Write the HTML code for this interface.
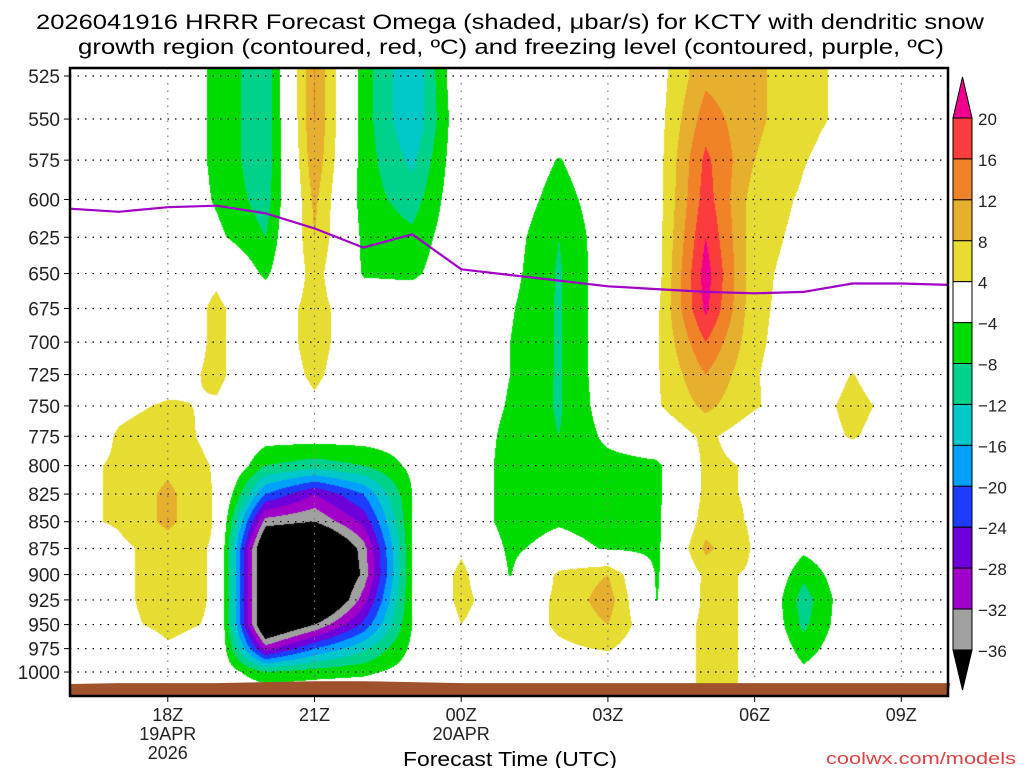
<!DOCTYPE html>
<html><head><meta charset="utf-8">
<style>
body{margin:0;background:#fff;width:1024px;height:768px;overflow:hidden;position:relative;font-family:"Liberation Sans",sans-serif}
#cv{position:absolute;left:70px;top:68px}
svg{position:absolute;left:0;top:0}
</style></head><body>
<canvas id="cv" width="878" height="628"></canvas>
<svg id="sv" width="1024" height="768">
<text x="510" y="29" text-anchor="middle" font-size="21" textLength="948" lengthAdjust="spacingAndGlyphs">2026041916 HRRR Forecast Omega (shaded, μbar/s) for KCTY with dendritic snow</text>
<text x="511" y="54" text-anchor="middle" font-size="21" textLength="866" lengthAdjust="spacingAndGlyphs">growth region (contoured, red, ºC) and freezing level (contoured, purple, ºC)</text>
<text x="510" y="766" text-anchor="middle" font-size="20" textLength="214" lengthAdjust="spacingAndGlyphs">Forecast Time (UTC)</text>
<text x="1016" y="764" text-anchor="end" font-size="17" fill="#e04040" textLength="190" lengthAdjust="spacingAndGlyphs">coolwx.com/models</text>
<g id="grid"></g><g id="marks"></g><g id="axes"></g><g id="cbar"></g>
</svg>
<script>
const hours=[0,1,2,3,4,5,6,7,8,9,10,11,12,13,14,15,16,17,18];
const levels=[525,550,575,600,625,650,675,700,725,750,775,800,825,850,875,900,925,950,975,1000,1025];
const r525=[0,0,0,-5,-11,12,-6,-16,1,0,0,0,2,11,9,5,3,0,4];
const r550=[0,0,0,-5,-11,12,-6,-16,0,0,0,0,2,14,9,5,3,0,0];
const r575=[0,0,0,-5,-11,11,-6,-13,0,0,-4.3,0,2,17,8,4.2,2,0,0];
const r600=[0,0,0,-4.5,-10,9,-6,-10,0,-1,-6,-1,2,18,6,3.5,1,0,0];
const r625=[0,0,0,-3,-8,8,-5,-7,0,-2,-8,-1,2,20,5.5,3,0,0,0];
const r650=[0,0,2,3,-5,6,-4.5,-5,0,-2.5,-8.5,-1,2,22,5,2.5,0,0,0];
const r675=[0,0,0,5,0,6,0,0,0,-3.5,-8.5,-1,3,21,5,2,0,0,0];
const r700=[0,0,0,5,0,6,0,0,0,-4,-8.5,-1,3.5,16,5,1,0,0,0];
const r725=[0,0,2,5,0,5,0,0,0,-4,-8.5,-1,3.5,12,4.5,0,4.2,0,0];
const r750=[0,3,4.5,3.5,0,3,0,0,0,-4.5,-8.5,-1.5,3.5,9,4.5,1,5.5,2,0];
const r775=[0,4.5,6,2.5,-2,-2,-2,-2,0,-5.5,-8,-3,0,5,1,1,4.5,1,0];
const r800=[3,4.5,7,3.5,-8,-10,-8,-3,0,-6,-6,-5.5,-5,5,3.5,0,0,0,0];
const r825=[3,4.5,9,3.5,-20,-28,-20,-4,0,-6,-5,-6,-5,5,3.5,0,0,0,0];
const r850=[3,4.5,9,3.5,-34,-36,-27,-4,0,-6,-4.5,-6,-5,6,3.5,0,0,0,0];
const r875=[0,3,6,3.5,-45,-50,-34,-4,3,-5,-2,-4.5,-5,9,3.5,-3,0,0,0];
const r900=[0,3,6,3.5,-45,-50,-35,-4,5.5,-4.3,5,8,-4.5,5,3.5,-7,0,0,0];
const r925=[0,3,6,3.5,-45,-50,-30,-4,5.5,0,5,10,-4.2,5,3.5,-10,0,0,0];
const r950=[0,3,5,3.5,-45,-36,-23,-4,4,0,5,8,0,5,3.5,-9,0,0,0];
const r975=[0,0,3.5,2,-30,-20,-13,-3,0,0,3,4.5,0,5,3.5,-6,0,0,0];
const r1000=[0,0,0,0,-8,-6,-5,-2,0,0,0,0,0,5,3.5,-3,0,0,0];
const r1025=[0,0,0,0,0,0,0,0,0,0,0,0,0,5,3.5,0,0,0,0];
const fzPressure=[606,608,605,604,609,619,632,623,647,651,655,659,661,663,664,663,657,657,658];
const sfcPressure=[1013,1012,1012,1012,1011,1010,1010,1011,1012,1012,1012,1012,1012,1012,1012,1012,1012,1012,1012];
const xTicks=[2,5,8,11,14,17];
const xTickLabels=[["18Z","19APR","2026"],["21Z"],["00Z","20APR"],["03Z"],["06Z"],["09Z"]];
const cbLevels=[20,16,12,8,4,-4,-8,-12,-16,-20,-24,-28,-32,-36];
const cbColors=["#f0008c","#fa3c3c","#f08228","#e6af2d","#e6dc32","#ffffff","#00dc00","#00d28c","#00c8c8","#00a0ff","#1e3cff","#6e00dc","#a000c8","#a0a0a0","#000000"];
const grid=[r525,r550,r575,r600,r625,r650,r675,r700,r725,r750,r775,r800,r825,r850,r875,r900,r925,r950,r975,r1000,r1025];

const X=h=>70+h*48.9;
const Y=p=>76+925*Math.log(p/525);
const NS="http://www.w3.org/2000/svg";
function mk(tag,attrs,parent){const e=document.createElementNS(NS,tag);for(const k in attrs)e.setAttribute(k,attrs[k]);parent.appendChild(e);return e;}
function colorIdx(v){for(let i=0;i<cbLevels.length;i++){if(v>=cbLevels[i])return i;}return cbColors.length-1;}
function hex(c){return [parseInt(c.slice(1,3),16),parseInt(c.slice(3,5),16),parseInt(c.slice(5,7),16)];}
const rgb=cbColors.map(hex);
const lnL=levels.map(p=>Math.log(p));
const cv=document.getElementById('cv');const ctx=cv.getContext('2d');
const img=ctx.createImageData(878,628);
for(let py=0;py<628;py++){
  const yy=68+py+0.5;
  let lp=Math.log(525)+(yy-76)/925;
  let ri=0;while(ri<levels.length-2&&lp>lnL[ri+1])ri++;
  let fy=(lp-lnL[ri])/(lnL[ri+1]-lnL[ri]);fy=Math.max(0,Math.min(1,fy));
  for(let px=0;px<878;px++){
    let h=(px+0.5)/48.9;let ci=Math.min(Math.floor(h),hours.length-2);let fx=Math.min(1,h-ci);
    const a=grid[ri],b=grid[ri+1];
    const v=(a[ci]*(1-fx)+a[ci+1]*fx)*(1-fy)+(b[ci]*(1-fx)+b[ci+1]*fx)*fy;
    const c=rgb[colorIdx(v)];const o=(py*878+px)*4;
    img.data[o]=c[0];img.data[o+1]=c[1];img.data[o+2]=c[2];img.data[o+3]=255;
  }
}
ctx.putImageData(img,0,0);
const gG=document.getElementById('grid'),gM=document.getElementById('marks'),gA=document.getElementById('axes'),gC=document.getElementById('cbar');
let td="M70,696";hours.forEach((h,i)=>{td+=" L"+X(h).toFixed(1)+","+Math.min(696,Y(sfcPressure[i])).toFixed(1);});td+=" L948,696 Z";
const terr=mk('path',{d:td,fill:"#a0522d"},gM);


levels.slice(0,20).forEach(p=>{
  const l=mk('line',{x1:70,x2:948,y1:Y(p),y2:Y(p),stroke:"#000","stroke-dasharray":"1.5,6","stroke-width":1.2},gG);
  
  
  const t=mk('line',{x1:64,x2:70,y1:Y(p),y2:Y(p),stroke:"#000","stroke-width":1},gA);
  
  
  const tx=mk('text',{x:60,y:Y(p)+7,"text-anchor":"end","font-size":19,fill:"#222"},gA);tx.textContent=p;
  
  
});
xTicks.forEach((h,i)=>{
  const l=mk('line',{x1:X(h),x2:X(h),y1:68,y2:696,stroke:"#777","stroke-dasharray":"1.5,6","stroke-width":1.2},gG);
  
  
  const t=mk('line',{x1:X(h),x2:X(h),y1:696,y2:702,stroke:"#000"},gA);
  
  
  xTickLabels[i].forEach((s,j)=>{
    const tx=mk('text',{x:X(h),y:721+j*19,"text-anchor":"middle","font-size":18,fill:"#222"},gA);tx.textContent=s;
    
    
  });
});
const fz=mk('polyline',{points:hours.map((h,i)=>X(Math.min(h,17.96)).toFixed(1)+","+Y(fzPressure[i]).toFixed(1)).join(" "),fill:"none",stroke:"#a000c8","stroke-width":2.2},gM);


const fr=mk('rect',{x:70,y:68,width:878,height:628,fill:"none",stroke:"#000","stroke-width":2.5},gA);


const cbX=953,cbW=19,cbTop=118,cbStep=40.92;
const tri=mk('polygon',{points:`${cbX},${cbTop} ${cbX+cbW},${cbTop} ${cbX+cbW/2},77`,fill:cbColors[0],stroke:"#000"},gC);


for(let i=1;i<cbColors.length-1;i++){
  const r=mk('rect',{x:cbX,y:cbTop+(i-1)*cbStep,width:cbW,height:cbStep,fill:cbColors[i],stroke:"#000"},gC);
  
  
}
const cbBot=cbTop+(cbColors.length-2)*cbStep;
const tri2=mk('polygon',{points:`${cbX},${cbBot} ${cbX+cbW},${cbBot} ${cbX+cbW/2},690`,fill:"#000",stroke:"#000"},gC);


cbLevels.forEach((v,i)=>{
  const t=mk('text',{x:978,y:cbTop+i*cbStep+7,"font-size":17,fill:"#222"},gC);t.textContent=(v<0?"\u2212":"")+Math.abs(v);
  
  
});
</script>
</body></html>
